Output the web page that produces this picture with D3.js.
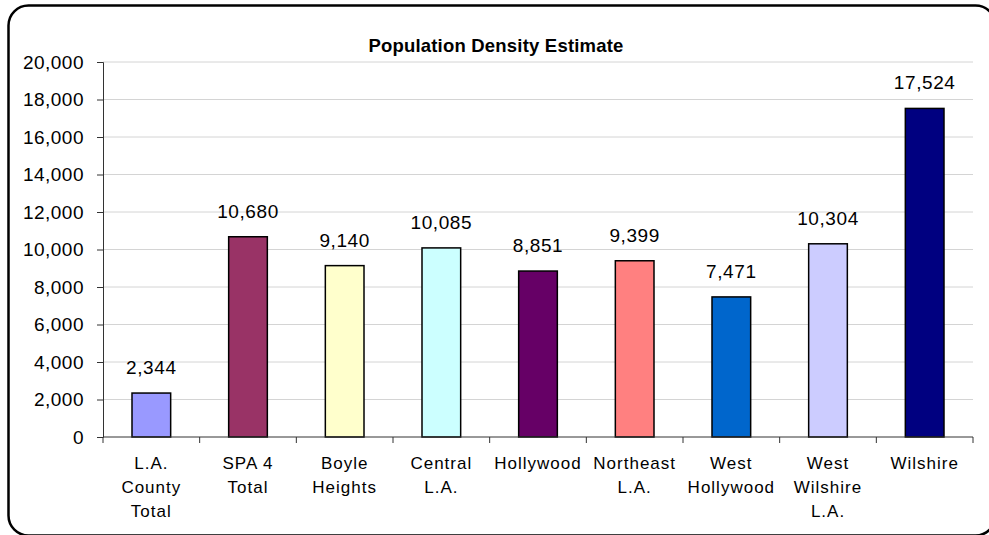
<!DOCTYPE html>
<html>
<head>
<meta charset="utf-8">
<script src="https://cdn.jsdelivr.net/npm/d3@7"></script>
<style>
  body { margin: 0; background: #fff; overflow: hidden; }
  text { font-family: Arial, "Liberation Sans", sans-serif; fill: #000; }
</style>
</head>
<body>
<div id="chart-area"></div>
<script>
// Data
const categories = [
    ["L.A.", "County", "Total"],
    ["SPA 4", "Total"],
    ["Boyle", "Heights"],
    ["Central", "L.A."],
    ["Hollywood"],
    ["Northeast", "L.A."],
    ["West", "Hollywood"],
    ["West", "Wilshire", "L.A."],
    ["Wilshire"]
]
const values = [2344, 10680, 9140, 10085, 8851, 9399, 7471, 10304, 17524]
const barColors = ["#9999FF", "#993366", "#FFFFCC", "#CCFFFF", "#660066", "#FF8080", "#0066CC", "#CCCCFF", "#000080"]
const yTicks = [0, 2000, 4000, 6000, 8000, 10000, 12000, 14000, 16000, 18000, 20000]

const W = 989, H = 535
const MARGIN = { LEFT: 103, RIGHT: 16, TOP: 62, BOTTOM: 98 }
const WIDTH = W - MARGIN.LEFT - MARGIN.RIGHT
const HEIGHT = H - MARGIN.TOP - MARGIN.BOTTOM

const svg = d3.select("#chart-area").append("svg")
    .attr("width", W)
    .attr("height", H)
    .style("display", "block")

// Rounded frame, runs past the right and bottom edges of the picture
svg.append("rect")
    .attr("x", 8.5).attr("y", 5.5)
    .attr("width", 987).attr("height", 530)
    .attr("rx", 20).attr("ry", 20)
    .attr("fill", "#fff")
    .attr("stroke", "#000")
    .attr("stroke-width", 2.5)

// Title
svg.append("text")
    .attr("x", 496)
    .attr("y", 52)
    .attr("text-anchor", "middle")
    .attr("font-size", "18.5px")
    .attr("font-weight", "bold")
    .attr("letter-spacing", "0.2px")
    .text("Population Density Estimate")

const g = svg.append("g")
    .attr("transform", `translate(${MARGIN.LEFT}, ${MARGIN.TOP})`)

// Scales
const x = d3.scaleBand()
    .domain(d3.range(categories.length))
    .range([0, WIDTH])
    .paddingInner(0.6)
    .paddingOuter(0.3)

const xTick = d3.scaleLinear()
    .domain([0, categories.length])
    .range([0, WIDTH])

const y = d3.scaleLinear()
    .domain([0, 20000])
    .range([HEIGHT, 0])

// Gridlines
g.selectAll("line.grid")
    .data(yTicks.filter(t => t > 0))
    .enter().append("line")
    .attr("class", "grid")
    .attr("x1", 0).attr("x2", WIDTH)
    .attr("y1", d => y(d)).attr("y2", d => y(d))
    .attr("stroke", "#d4d4d4")
    .attr("stroke-width", 1)

// Y Axis
const yAxisCall = d3.axisLeft(y)
    .tickValues(yTicks)
    .tickSize(6)
    .tickPadding(13)
    .tickFormat(d3.format(","))
const yAxis = g.append("g").call(yAxisCall)
yAxis.selectAll("text")
    .attr("font-size", "19px")
    .attr("letter-spacing", "0.5px")
    .attr("font-family", "Arial, 'Liberation Sans', sans-serif")
yAxis.selectAll("line").attr("stroke", "#333")
yAxis.select(".domain").attr("stroke", "#333")

// Bars
g.selectAll("rect.bar")
    .data(values)
    .enter().append("rect")
    .attr("class", "bar")
    .attr("x", (d, i) => x(i))
    .attr("y", d => y(d))
    .attr("width", x.bandwidth())
    .attr("height", d => HEIGHT - y(d))
    .attr("fill", (d, i) => barColors[i])
    .attr("stroke", "#000")
    .attr("stroke-width", 1.5)

// X Axis line + ticks between categories
g.append("line")
    .attr("x1", 0).attr("x2", WIDTH)
    .attr("y1", HEIGHT).attr("y2", HEIGHT)
    .attr("stroke", "#333")
g.selectAll("line.xtick")
    .data(d3.range(categories.length + 1))
    .enter().append("line")
    .attr("class", "xtick")
    .attr("x1", d => xTick(d)).attr("x2", d => xTick(d))
    .attr("y1", HEIGHT).attr("y2", HEIGHT + 6)
    .attr("stroke", "#333")

// Value labels
g.selectAll("text.value")
    .data(values)
    .enter().append("text")
    .attr("class", "value")
    .attr("x", (d, i) => x(i) + x.bandwidth() / 2)
    .attr("y", d => y(d) - 19)
    .attr("text-anchor", "middle")
    .attr("font-size", "19px")
    .attr("letter-spacing", "0.6px")
    .text(d3.format(","))

// Category labels
const catLabels = g.selectAll("text.cat")
    .data(categories)
    .enter().append("text")
    .attr("class", "cat")
    .attr("text-anchor", "middle")
    .attr("font-size", "17px")
    .attr("letter-spacing", "1px")
catLabels.selectAll("tspan")
    .data((d, i) => d.map(line => ({ line, i })))
    .enter().append("tspan")
    .attr("x", d => x(d.i) + x.bandwidth() / 2)
    .attr("y", (d, j) => HEIGHT + 32 + j * 24)
    .text(d => d.line)
</script>
</body>
</html>
